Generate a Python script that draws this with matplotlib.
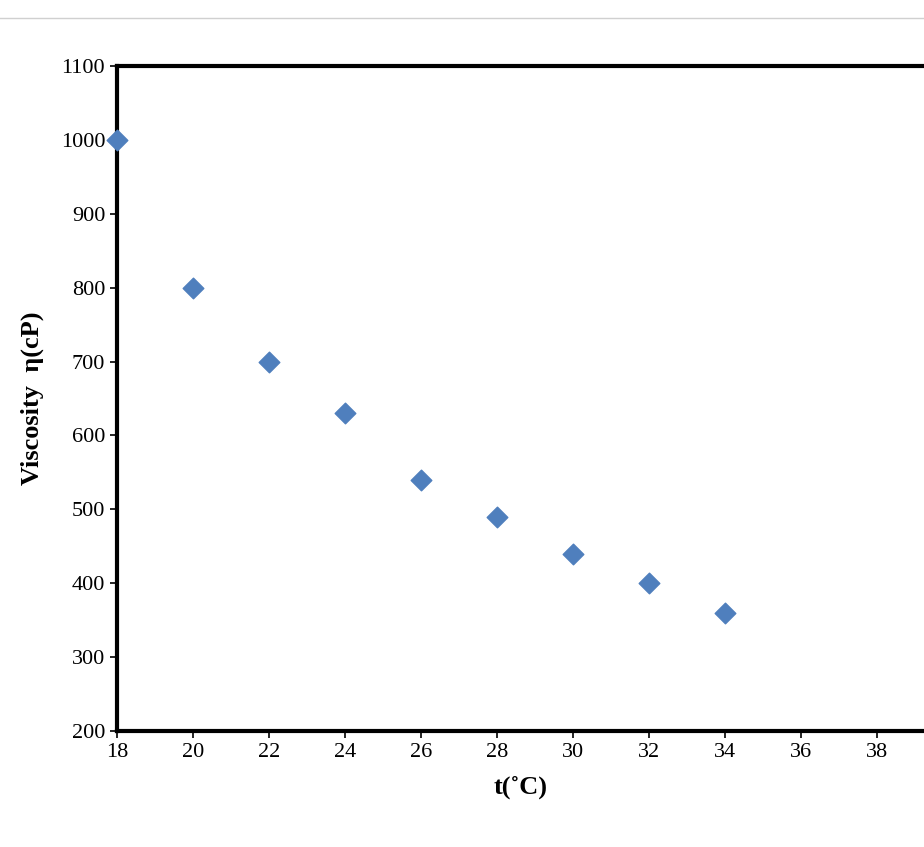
import matplotlib.pyplot as plt
from matplotlib.lines import Line2D

temps = [18, 20, 22, 24, 26, 28, 30, 32, 34]
viscosity = [1000, 800, 700, 630, 540, 490, 440, 400, 360]
x_ticks = [18, 20, 22, 24, 26, 28, 30, 32, 34, 36, 38]
y_ticks = [200, 300, 400, 500, 600, 700, 800, 900, 1000, 1100]

plt.rcParams['font.family'] = ['Liberation Serif', 'DejaVu Serif']

fig = plt.figure(figsize=(9.24, 8.47), dpi=100)
ax = fig.add_axes([0.1266, 0.137, 0.873, 0.785])
fig.add_artist(Line2D([0, 1], [0.979, 0.979], color='#d0d0d0', lw=1))

ax.scatter(temps, viscosity, marker='D', s=110, color='#4F7FBD', zorder=3, clip_on=False)
ax.set_xlim(18, 39.24)
ax.set_ylim(200, 1100)
ax.set_xticks(x_ticks)
ax.set_yticks(y_ticks)
ax.tick_params(labelsize=16, direction='out', length=5, width=1.2)
ax.spines['right'].set_visible(False)
for s in ['top', 'left', 'bottom']:
    ax.spines[s].set_linewidth(3)
ax.set_xlabel('t(˚C)', fontsize=19, fontweight='bold', labelpad=10)
ax.set_ylabel('Viscosity  η(cP)', fontsize=19, fontweight='bold', labelpad=12)

fig.savefig('out.png')
